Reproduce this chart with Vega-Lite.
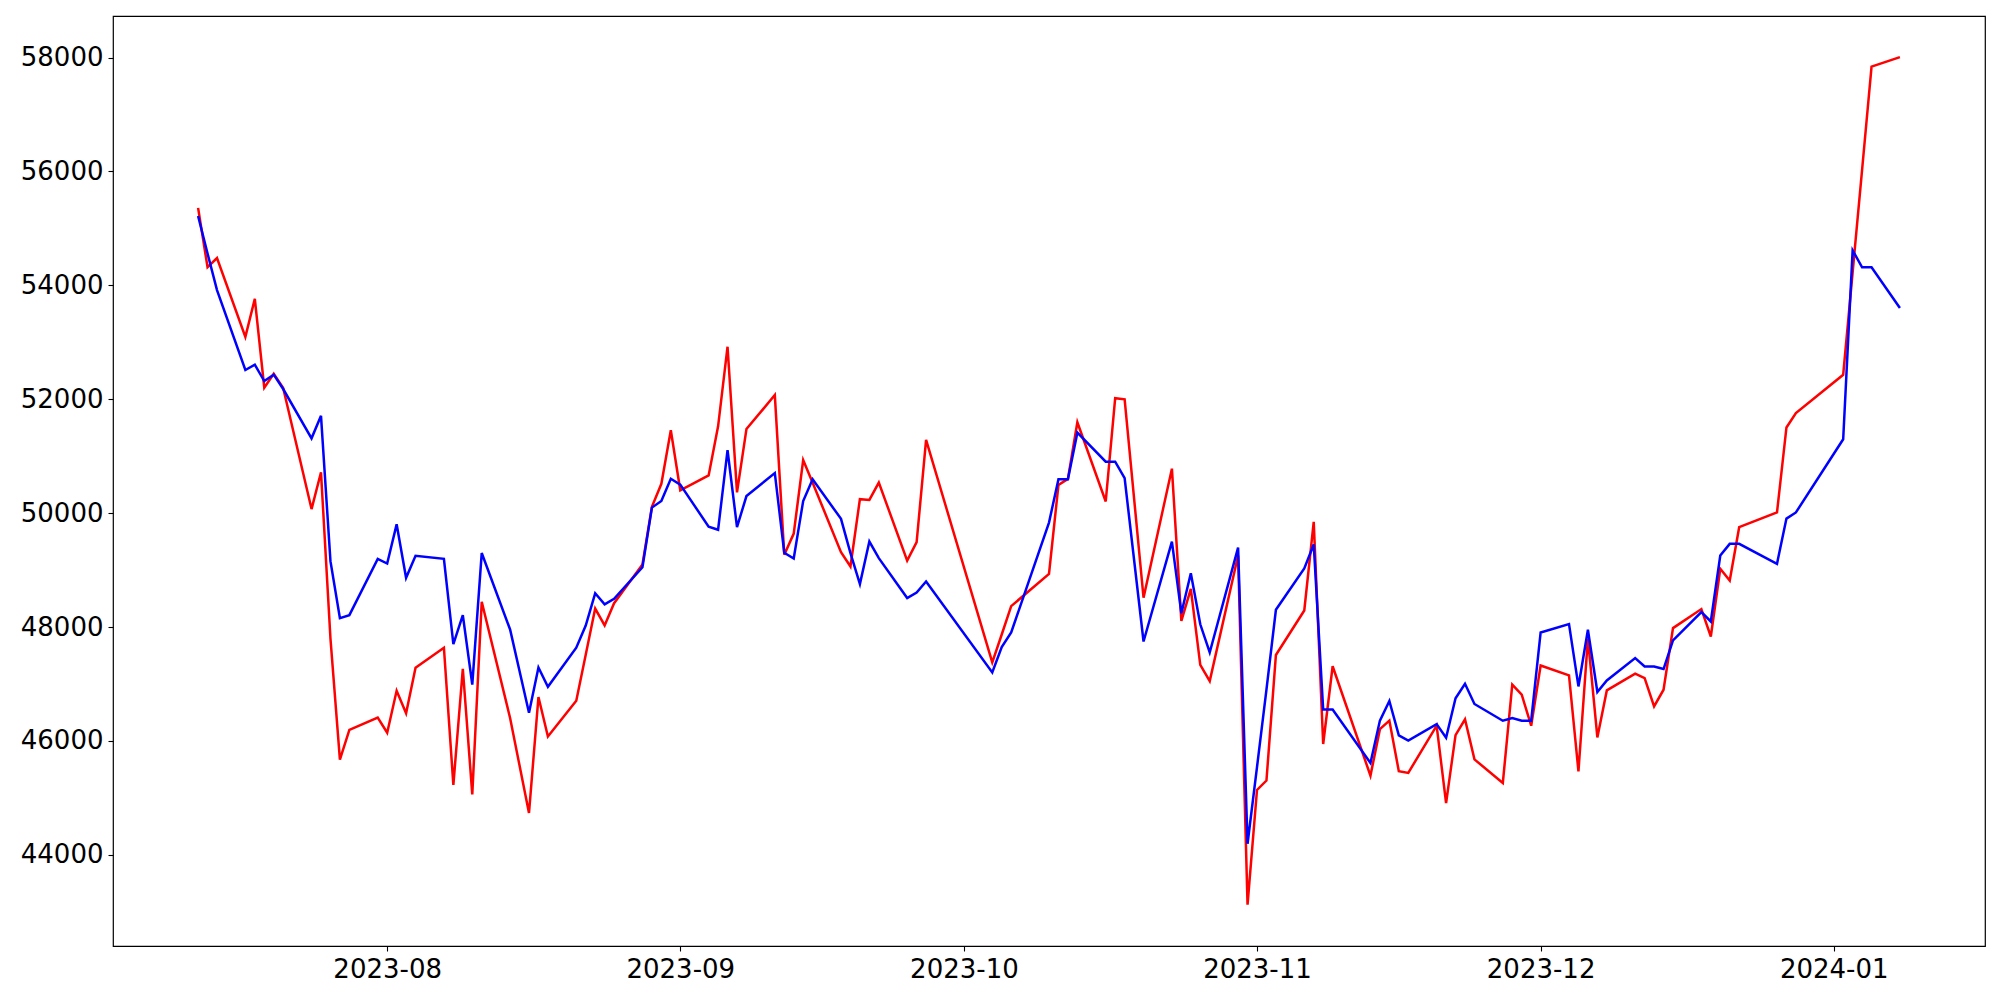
{
  "$schema": "https://vega.github.io/schema/vega-lite/v6.json",
  "width": 1872,
  "height": 930,
  "autosize": {"type": "none"},
  "padding": {"left": 113, "top": 16, "right": 15, "bottom": 54},
  "background": "white",
  "config": {
    "view": {"stroke": "black", "strokeWidth": 1.2},
    "font": "DejaVu Sans",
    "axis": {
      "grid": false,
      "domain": false,
      "ticks": true,
      "tickColor": "black",
      "tickSize": 5,
      "tickWidth": 1.1,
      "labelFont": "DejaVu Sans",
      "labelFontSize": 26,
      "labelColor": "black",
      "labelPadding": 5,
      "title": null
    }
  },
  "data": {
    "values": [
      {"d": "2023-07-12", "r": 55360, "b": 55218},
      {"d": "2023-07-13", "r": 54319, "b": 54560},
      {"d": "2023-07-14", "r": 54479, "b": 53918},
      {"d": "2023-07-17", "r": 53095, "b": 52514},
      {"d": "2023-07-18", "r": 53765, "b": 52607},
      {"d": "2023-07-19", "r": 52204, "b": 52320},
      {"d": "2023-07-20", "r": 52447, "b": 52432},
      {"d": "2023-07-21", "r": 52200, "b": 52180},
      {"d": "2023-07-24", "r": 50072, "b": 51314},
      {"d": "2023-07-25", "r": 50719, "b": 51709},
      {"d": "2023-07-26", "r": 47800, "b": 49158},
      {"d": "2023-07-27", "r": 45672, "b": 48158},
      {"d": "2023-07-28", "r": 46195, "b": 48209},
      {"d": "2023-07-31", "r": 46412, "b": 49198},
      {"d": "2023-08-01", "r": 46145, "b": 49116},
      {"d": "2023-08-02", "r": 46882, "b": 49804},
      {"d": "2023-08-03", "r": 46487, "b": 48865},
      {"d": "2023-08-04", "r": 47286, "b": 49251},
      {"d": "2023-08-07", "r": 47637, "b": 49198},
      {"d": "2023-08-08", "r": 45228, "b": 47702},
      {"d": "2023-08-09", "r": 47268, "b": 48209},
      {"d": "2023-08-10", "r": 45062, "b": 46991},
      {"d": "2023-08-11", "r": 48444, "b": 49300},
      {"d": "2023-08-14", "r": 46404, "b": 47958},
      {"d": "2023-08-16", "r": 44735, "b": 46497},
      {"d": "2023-08-17", "r": 46772, "b": 47289},
      {"d": "2023-08-18", "r": 46079, "b": 46952},
      {"d": "2023-08-21", "r": 46705, "b": 47639},
      {"d": "2023-08-22", "r": 47515, "b": 48028},
      {"d": "2023-08-23", "r": 48325, "b": 48593},
      {"d": "2023-08-24", "r": 48028, "b": 48398},
      {"d": "2023-08-25", "r": 48419, "b": 48498},
      {"d": "2023-08-28", "r": 49098, "b": 49051},
      {"d": "2023-08-29", "r": 50112, "b": 50098},
      {"d": "2023-08-30", "r": 50516, "b": 50214},
      {"d": "2023-08-31", "r": 51456, "b": 50604},
      {"d": "2023-09-01", "r": 50402, "b": 50502},
      {"d": "2023-09-04", "r": 50663, "b": 49763},
      {"d": "2023-09-05", "r": 51525, "b": 49709},
      {"d": "2023-09-06", "r": 52923, "b": 51107},
      {"d": "2023-09-07", "r": 50365, "b": 49756},
      {"d": "2023-09-08", "r": 51477, "b": 50300},
      {"d": "2023-09-11", "r": 52074, "b": 50704},
      {"d": "2023-09-12", "r": 49272, "b": 49305},
      {"d": "2023-09-13", "r": 49642, "b": 49205},
      {"d": "2023-09-14", "r": 50932, "b": 50214},
      {"d": "2023-09-15", "r": 50536, "b": 50596},
      {"d": "2023-09-18", "r": 49316, "b": 49900},
      {"d": "2023-09-19", "r": 49064, "b": 49298},
      {"d": "2023-09-20", "r": 50246, "b": 48754},
      {"d": "2023-09-21", "r": 50233, "b": 49502},
      {"d": "2023-09-22", "r": 50537, "b": 49211},
      {"d": "2023-09-25", "r": 49168, "b": 48509},
      {"d": "2023-09-26", "r": 49491, "b": 48607},
      {"d": "2023-09-27", "r": 51286, "b": 48800},
      {"d": "2023-10-04", "r": 47379, "b": 47204},
      {"d": "2023-10-05", "r": 47870, "b": 47649},
      {"d": "2023-10-06", "r": 48368, "b": 47905},
      {"d": "2023-10-10", "r": 48935, "b": 49835},
      {"d": "2023-10-11", "r": 50496, "b": 50596},
      {"d": "2023-10-12", "r": 50602, "b": 50596},
      {"d": "2023-10-13", "r": 51596, "b": 51414},
      {"d": "2023-10-16", "r": 50205, "b": 50905},
      {"d": "2023-10-17", "r": 52018, "b": 50905},
      {"d": "2023-10-18", "r": 52000, "b": 50614},
      {"d": "2023-10-20", "r": 48515, "b": 47747},
      {"d": "2023-10-23", "r": 50781, "b": 49500},
      {"d": "2023-10-24", "r": 48110, "b": 48242},
      {"d": "2023-10-25", "r": 48672, "b": 48944},
      {"d": "2023-10-26", "r": 47337, "b": 48049},
      {"d": "2023-10-27", "r": 47053, "b": 47554},
      {"d": "2023-10-30", "r": 49258, "b": 49396},
      {"d": "2023-10-31", "r": 43126, "b": 44195},
      {"d": "2023-11-01", "r": 45140, "b": 45540},
      {"d": "2023-11-02", "r": 45305, "b": 46900},
      {"d": "2023-11-03", "r": 47510, "b": 48303},
      {"d": "2023-11-06", "r": 48291, "b": 49028},
      {"d": "2023-11-07", "r": 49849, "b": 49451},
      {"d": "2023-11-08", "r": 45947, "b": 46551},
      {"d": "2023-11-09", "r": 47312, "b": 46551},
      {"d": "2023-11-13", "r": 45391, "b": 45614},
      {"d": "2023-11-14", "r": 46207, "b": 46358},
      {"d": "2023-11-15", "r": 46358, "b": 46702},
      {"d": "2023-11-16", "r": 45470, "b": 46098},
      {"d": "2023-11-17", "r": 45440, "b": 46007},
      {"d": "2023-11-20", "r": 46268, "b": 46296},
      {"d": "2023-11-21", "r": 44909, "b": 46056},
      {"d": "2023-11-22", "r": 46104, "b": 46751},
      {"d": "2023-11-23", "r": 46380, "b": 47004},
      {"d": "2023-11-24", "r": 45677, "b": 46650},
      {"d": "2023-11-27", "r": 45263, "b": 46356},
      {"d": "2023-11-28", "r": 46988, "b": 46404},
      {"d": "2023-11-29", "r": 46812, "b": 46356},
      {"d": "2023-11-30", "r": 46268, "b": 46356},
      {"d": "2023-12-01", "r": 47326, "b": 47905},
      {"d": "2023-12-04", "r": 47151, "b": 48053},
      {"d": "2023-12-05", "r": 45467, "b": 46958},
      {"d": "2023-12-06", "r": 47800, "b": 47953},
      {"d": "2023-12-07", "r": 46063, "b": 46860},
      {"d": "2023-12-08", "r": 46888, "b": 47063},
      {"d": "2023-12-11", "r": 47181, "b": 47456},
      {"d": "2023-12-12", "r": 47105, "b": 47309},
      {"d": "2023-12-13", "r": 46607, "b": 47309},
      {"d": "2023-12-14", "r": 46900, "b": 47263},
      {"d": "2023-12-15", "r": 47982, "b": 47765},
      {"d": "2023-12-18", "r": 48316, "b": 48263},
      {"d": "2023-12-19", "r": 47835, "b": 48098},
      {"d": "2023-12-20", "r": 49023, "b": 49256},
      {"d": "2023-12-21", "r": 48818, "b": 49461},
      {"d": "2023-12-22", "r": 49754, "b": 49461},
      {"d": "2023-12-26", "r": 50013, "b": 49112},
      {"d": "2023-12-27", "r": 51505, "b": 49905},
      {"d": "2023-12-28", "r": 51758, "b": 50013},
      {"d": "2024-01-02", "r": 52430, "b": 51298},
      {"d": "2024-01-03", "r": 54230, "b": 54616},
      {"d": "2024-01-04", "r": 56030, "b": 54318},
      {"d": "2024-01-05", "r": 57840, "b": 54318},
      {"d": "2024-01-08", "r": 58007, "b": 53602}
    ]
  },
  "encoding": {
    "x": {
      "field": "d",
      "type": "temporal",
      "scale": {
        "type": "utc",
        "domain": [1688342400000, 1705449600000]
      },
      "axis": {
        "labelExpr": "utcFormat(datum.value, '%Y-%m')",
        "tickCount": {"interval": "month", "step": 1},
        "labelAngle": 0,
        "labelAlign": "center",
        "labelBaseline": "top"
      }
    }
  },
  "layer": [
    {
      "mark": {"type": "line", "color": "#ff0000", "strokeWidth": 2.5},
      "encoding": {
        "y": {
          "field": "r",
          "type": "quantitative",
          "scale": {"domain": [42400, 58730], "nice": false, "zero": false},
          "axis": {"values": [44000, 46000, 48000, 50000, 52000, 54000, 56000, 58000], "format": "d", "labelBaseline": "middle"}
        }
      }
    },
    {
      "mark": {"type": "line", "color": "#0000ff", "strokeWidth": 2.5},
      "encoding": {
        "y": {"field": "b", "type": "quantitative"}
      }
    }
  ]
}
